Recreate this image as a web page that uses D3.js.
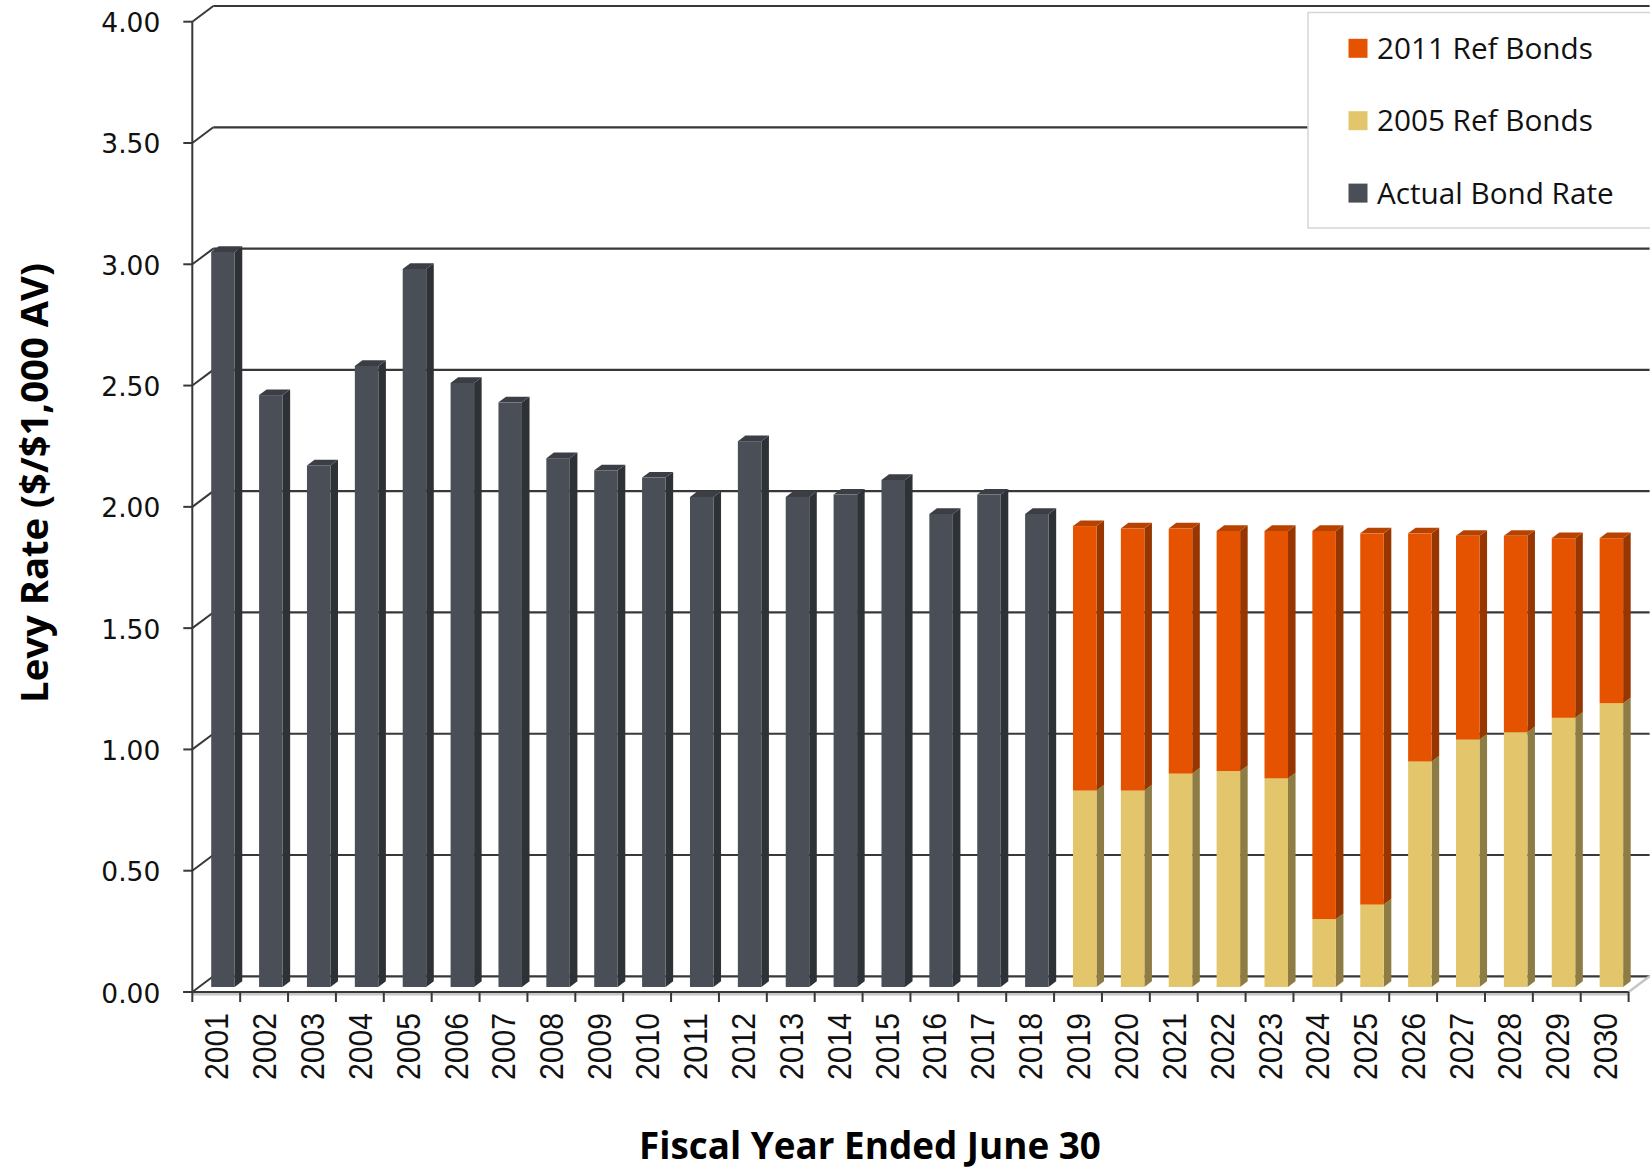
<!DOCTYPE html>
<html>
<head>
<meta charset="utf-8">
<script src="https://cdn.jsdelivr.net/npm/d3@7"></script>
<style>
  html, body { margin: 0; padding: 0; background: #fff; }
  svg { display: block; }
</style>
</head>
<body>
<svg id="chart" width="1650" height="1170"></svg>
<script>
// Fiscal years (June 30 year end)
const years = ["2001","2002","2003","2004","2005","2006","2007","2008","2009","2010",
               "2011","2012","2013","2014","2015","2016","2017","2018","2019","2020",
               "2021","2022","2023","2024","2025","2026","2027","2028","2029","2030"];

// Historical levy rate, 2001-2018 ($ per $1,000 AV)
const actualYears = years.slice(0, 18);
const actualRate = [3.03, 2.44, 2.15, 2.56, 2.96, 2.49, 2.41, 2.18, 2.13, 2.10,
                    2.02, 2.25, 2.02, 2.03, 2.09, 1.95, 2.03, 1.95];

// Projected levy rate split by refunding issue, 2019-2030
const projYears = years.slice(18);
const ref2005 = [0.81, 0.81, 0.88, 0.89, 0.86, 0.28, 0.34, 0.93, 1.02, 1.05, 1.11, 1.17];
const ref2011 = [1.09, 1.08, 1.01, 0.99, 1.02, 1.60, 1.53, 0.94, 0.84, 0.81, 0.74, 0.68];

const yTicks = [0, 0.5, 1, 1.5, 2, 2.5, 3, 3.5, 4];

const seriesNames = ["2011 Ref Bonds", "2005 Ref Bonds", "Actual Bond Rate"];
const colors = {
  "Actual Bond Rate": { front: "#4a4e56", side: "#2e3136", top: "#3b3e44" },
  "2005 Ref Bonds":   { front: "#e3c66b", side: "#8e7c45", top: "#c9ad55" },
  "2011 Ref Bonds":   { front: "#e55300", side: "#973600", top: "#b84300" }
};

const svg = d3.select("#chart");

// Front plane of the plot box; depth runs up and to the right
const xLeft = 192.3, xRight = 1628.6;
const x = d3.scaleBand().domain(years).range([xLeft, xRight])
  .paddingInner(0.509).paddingOuter(0.2545);
const y = d3.scaleLinear().domain([0, 4]).range([992, 21.7]);
const D = { dx: 21, dy: -15.7 };     // full wall depth
const fFront = 0.32, fBack = 0.68;    // bar slab position inside the depth

const gridColor = "#383838";

// Back wall gridlines and side-wall diagonals
const walls = svg.append("g");
yTicks.forEach(v => {
  const yf = y(v);
  walls.append("line")
    .attr("x1", xLeft + D.dx).attr("x2", xRight + D.dx)
    .attr("y1", yf + D.dy).attr("y2", yf + D.dy)
    .attr("stroke", gridColor).attr("stroke-width", 2.2);
  walls.append("line")
    .attr("x1", xLeft).attr("y1", yf)
    .attr("x2", xLeft + D.dx).attr("y2", yf + D.dy)
    .attr("stroke", gridColor).attr("stroke-width", 2);
  walls.append("line")
    .attr("x1", xLeft - 9).attr("x2", xLeft)
    .attr("y1", yf).attr("y2", yf)
    .attr("stroke", gridColor).attr("stroke-width", 2);
  walls.append("text")
    .attr("x", xLeft - 32).attr("y", yf + 1)
    .attr("text-anchor", "end").attr("dominant-baseline", "central")
    .attr("font-family", "DejaVu Sans").attr("font-size", 26.5)
    .attr("fill", "#111")
    .text(v.toFixed(2));
});

// Floor right edge
svg.append("line")
  .attr("x1", xRight).attr("y1", y(0))
  .attr("x2", xRight + D.dx).attr("y2", y(0) + D.dy)
  .attr("stroke", "#c4c4c4").attr("stroke-width", 2.5);

// Vertical value axis line
svg.append("line")
  .attr("x1", xLeft).attr("x2", xLeft)
  .attr("y1", y(4)).attr("y2", y(0))
  .attr("stroke", gridColor).attr("stroke-width", 2);

// Draw one 3D column segment from v0 to v1
function column(g, cat, v0, v1, c) {
  const x0 = x(cat), w = x.bandwidth();
  const yb = y(v0), yt = y(v1);
  const a = { dx: D.dx * fFront, dy: D.dy * fFront };
  const b = { dx: D.dx * fBack,  dy: D.dy * fBack };
  const pts = p => p.map(q => q.join(",")).join(" ");
  g.append("polygon").attr("fill", c.side)
    .attr("points", pts([[x0 + w + a.dx, yt + a.dy], [x0 + w + b.dx, yt + b.dy],
                         [x0 + w + b.dx, yb + b.dy], [x0 + w + a.dx, yb + a.dy]]));
  g.append("polygon").attr("fill", c.top)
    .attr("points", pts([[x0 + a.dx, yt + a.dy], [x0 + b.dx, yt + b.dy],
                         [x0 + w + b.dx, yt + b.dy], [x0 + w + a.dx, yt + a.dy]]));
  g.append("rect").attr("fill", c.front)
    .attr("x", x0 + a.dx).attr("y", yt + a.dy)
    .attr("width", w).attr("height", yb - yt);
}

const bars = svg.append("g");
actualYears.forEach((yr, i) => {
  column(bars, yr, 0, actualRate[i], colors["Actual Bond Rate"]);
});
projYears.forEach((yr, i) => {
  column(bars, yr, 0, ref2005[i], colors["2005 Ref Bonds"]);
  column(bars, yr, ref2005[i], ref2005[i] + ref2011[i], colors["2011 Ref Bonds"]);
});

// Front floor edge and category ticks
svg.append("line")
  .attr("x1", xLeft).attr("x2", xRight)
  .attr("y1", y(0) + 2).attr("y2", y(0) + 2)
  .attr("stroke", "#c8c8c8").attr("stroke-width", 3);
svg.append("line")
  .attr("x1", xLeft - 9).attr("x2", xRight)
  .attr("y1", y(0)).attr("y2", y(0))
  .attr("stroke", gridColor).attr("stroke-width", 2);

const step = x.step();
d3.range(years.length + 1).forEach(i => {
  svg.append("line")
    .attr("x1", xLeft + i * step).attr("x2", xLeft + i * step)
    .attr("y1", y(0)).attr("y2", y(0) + 10)
    .attr("stroke", gridColor).attr("stroke-width", 2);
});

// Rotated year labels
years.forEach(yr => {
  const cx = x(yr) + x.bandwidth() / 2;
  svg.append("text")
    .attr("transform", `translate(${cx},1013) rotate(-90)`)
    .attr("text-anchor", "end").attr("dominant-baseline", "central")
    .attr("font-family", "Liberation Sans").attr("font-size", 34)
    .attr("textLength", 67).attr("lengthAdjust", "spacingAndGlyphs")
    .attr("fill", "#111")
    .text(yr);
});

// Scale a text element's font size so it spans a target width
function fitWidth(sel, target) {
  const w = sel.node().getComputedTextLength();
  const fs = parseFloat(sel.attr("font-size"));
  sel.attr("font-size", fs * target / w);
  return fs * target / w;
}

// Axis titles
const yTitle = svg.append("text")
  .attr("transform", "translate(33,483) rotate(-90)")
  .attr("text-anchor", "middle").attr("dominant-baseline", "central")
  .attr("font-family", "Open Sans").attr("font-weight", "bold")
  .attr("font-size", 34).attr("fill", "#000")
  .text("Levy Rate ($/$1,000 AV)");
fitWidth(yTitle, 440);

const xTitle = svg.append("text")
  .attr("x", 870).attr("y", 1159)
  .attr("text-anchor", "middle")
  .attr("font-family", "Open Sans").attr("font-weight", "bold")
  .attr("font-size", 34).attr("fill", "#000")
  .text("Fiscal Year Ended June 30");
fitWidth(xTitle, 462);

// Legend
const legend = svg.append("g");
legend.append("rect")
  .attr("x", 1308).attr("y", 12.5).attr("width", 360).attr("height", 215.5)
  .attr("fill", "#fff").attr("stroke", "#d6d6d6").attr("stroke-width", 1.5);
let legendSize = null;
seriesNames.forEach((name, i) => {
  const cy = 48.3 + i * 72.4;
  legend.append("rect")
    .attr("x", 1348.5).attr("y", cy - 9.5).attr("width", 19).attr("height", 19)
    .attr("fill", colors[name].front);
  const t = legend.append("text")
    .attr("x", 1377).attr("y", cy + 10.5)
    .attr("font-family", "Open Sans").attr("font-size", 30)
    .attr("fill", "#111")
    .text(name);
  if (legendSize === null) legendSize = fitWidth(t, 216);
  else t.attr("font-size", legendSize);
});
</script>
</body>
</html>
